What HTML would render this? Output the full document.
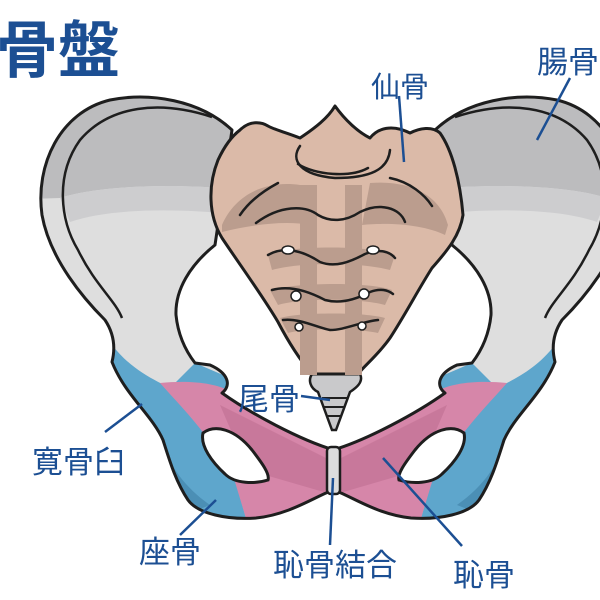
<!DOCTYPE html>
<html><head><meta charset="utf-8"><style>
html,body{margin:0;padding:0;background:#fff;}
svg{display:block;}
text{font-family:"Liberation Sans","Noto Sans CJK JP",sans-serif;fill:#1c4f93;}
</style></head><body>
<svg width="600" height="600" viewBox="0 0 600 600" xmlns="http://www.w3.org/2000/svg">
<defs>
<path id="bone" d="M232,130 C200,100 150,92 110,100 C60,112 35,165 42,215 C50,260 85,300 105,320 C115,335 115,350 112,362 C125,395 152,415 163,440 C170,462 176,482 188,500 C198,514 228,520 256,518 C286,515 310,500 326,493 L334,490 L334,450 C300,440 250,413 222,393 C232,385 228,373 210,365 L195,363 C185,350 178,335 176,315 C175,290 190,265 215,245 Z"/>
<clipPath id="bc"><use href="#bone"/></clipPath>
<g id="half">
  <use href="#bone" fill="#dedede"/>
  <g clip-path="url(#bc)">
    <path d="M0,0 L240,0 L240,190 C180,183 100,185 60,198 L0,200Z" fill="#bcbcbe"/>
    <path d="M60,198 C100,185 180,183 240,190 L240,215 C180,208 110,208 70,222Z" fill="#cdcdcf"/>
    <path d="M95,330 L112,345 C130,368 150,378 170,388 L195,363 L230,378 L225,398 L205,435 L235,480 L248,525 L0,540 L0,330Z" fill="#5ea6cc"/>
    <path d="M150,415 C165,455 175,480 210,505 L185,515 L158,460Z" fill="#4b8fb5"/>
    <path d="M160,383 C190,380 215,383 230,391 L340,440 L340,530 L248,525 L235,482 L205,435 C190,415 175,400 160,383Z" fill="#d686a9"/>
    <path d="M220,405 L334,462 L334,495 L248,470Z" fill="#c8789b"/>
  </g>
  <use href="#bone" fill="none" stroke="#1e1e1e" stroke-width="3" stroke-linejoin="round"/>
  <path d="M212,117 C160,100 110,105 80,140 C55,175 60,220 78,250 C95,285 115,300 122,318" fill="none" stroke="#1e1e1e" stroke-width="2.5"/>
  <path d="M203,433 C215,424 235,429 252,450 C262,463 270,474 268,480 C255,484 235,484 225,474 C212,462 200,446 203,433 Z" fill="#fff" stroke="#1e1e1e" stroke-width="3"/>
</g>
</defs>
<use href="#half"/>
<use href="#half" transform="translate(667,0) scale(-1,1)"/>
<rect x="327" y="447" width="13" height="47" rx="4" fill="#dcdcdd" stroke="#1e1e1e" stroke-width="2.5"/>
<path d="M312,374 L360,374 C364,382 356,388 350,392 L336,430 L332,430 L318,392 C310,388 308,380 312,374Z" fill="#c9c9cb" stroke="#1e1e1e" stroke-width="2.5"/>
<path d="M322,398 H348 M324,407 H345 M327,416 H342" stroke="#1e1e1e" stroke-width="2"/>
<path d="M240,130 C250,120 262,122 268,126 C275,130 285,132 300,138 C315,128 328,118 335,106 C345,120 358,132 370,138 C378,128 392,124 410,133 C420,128 432,126 440,133 C452,150 460,180 463,215 C460,235 448,250 432,268 C418,290 405,315 390,338 C378,355 365,365 358,374 L312,374 C300,360 290,345 278,322 C262,295 240,265 222,238 C208,215 208,185 218,160 C225,145 232,136 240,130Z" fill="#dbbaa8" stroke="#1e1e1e" stroke-width="3" stroke-linejoin="round"/>
<g fill="#bb9d8e">
<path d="M222,225 C235,195 265,180 300,185 L310,225 C285,220 250,225 222,232Z"/>
<path d="M448,225 C440,195 410,180 370,183 L362,225 C390,222 425,225 445,235Z"/>
<rect x="300" y="185" width="17" height="190"/>
<rect x="345" y="185" width="17" height="190"/>
<path d="M268,255 C290,245 370,245 395,255 L390,270 C360,262 300,262 272,270Z"/>
<path d="M270,290 C300,282 370,282 392,290 L385,305 C360,298 300,298 278,305Z"/>
<path d="M280,318 C300,312 365,312 385,318 L378,333 C355,328 305,328 288,333Z"/>
</g>
<g fill="none" stroke="#1e1e1e" stroke-width="2.5" stroke-linecap="round">
<path d="M300,146 C290,160 300,175 335,178 C370,178 388,170 390,150"/>
<path d="M298,164 C315,175 350,178 368,168"/>
<path d="M240,215 C250,200 265,190 278,183"/>
<path d="M256,223 C280,205 305,205 318,215 C330,222 345,222 360,212 C380,202 400,208 405,222"/>
<path d="M390,178 C410,182 425,195 432,206"/>
<path d="M268,255 C285,245 305,252 320,262 C335,268 350,262 365,254 C380,248 390,252 395,258"/>
<path d="M272,290 C290,285 310,292 325,300 C340,304 355,300 370,292 C380,288 388,290 393,294"/>
<path d="M283,320 C300,318 318,328 330,330 C345,330 360,322 378,320"/>
</g>
<g fill="#fff" stroke="#1e1e1e" stroke-width="1.5">
<ellipse cx="288" cy="250" rx="6" ry="4"/><ellipse cx="373" cy="250" rx="6" ry="4"/>
<ellipse cx="296" cy="296" rx="5" ry="5"/><ellipse cx="364" cy="294" rx="5" ry="5"/>
<ellipse cx="299" cy="327" rx="4" ry="4"/><ellipse cx="362" cy="326" rx="4" ry="4"/>
</g>
<g stroke="#1c4f93" stroke-width="2.5" fill="none">
<line x1="399" y1="96" x2="404" y2="162"/>
<line x1="570" y1="78" x2="537" y2="140"/>
<line x1="301" y1="396" x2="330" y2="400"/>
<line x1="105" y1="432" x2="142" y2="404"/>
<line x1="180" y1="535" x2="216" y2="500"/>
<line x1="330" y1="545" x2="333" y2="478"/>
<line x1="462" y1="546" x2="383" y2="458"/>
</g>
<text x="-4" y="72" font-size="62" font-weight="bold">骨盤</text>
<text x="371" y="97" font-size="29">仙骨</text>
<text x="537" y="73" font-size="31">腸骨</text>
<text x="238" y="410" font-size="31">尾骨</text>
<text x="32" y="473" font-size="31">寛骨臼</text>
<text x="139" y="563" font-size="31">座骨</text>
<text x="273" y="576" font-size="31">恥骨結合</text>
<text x="453" y="586" font-size="31">恥骨</text>
</svg>
</body></html>
